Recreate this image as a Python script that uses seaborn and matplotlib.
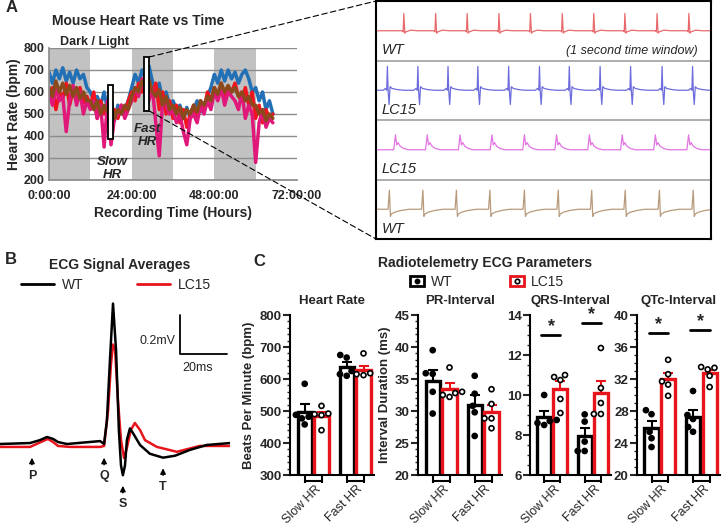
import numpy as np
import pandas as pd
import matplotlib
matplotlib.use("Agg")
import matplotlib.pyplot as plt
import matplotlib.transforms as mtransforms
from matplotlib.patches import Rectangle, ConnectionPatch
from matplotlib.lines import Line2D
from matplotlib.ticker import AutoMinorLocator, MultipleLocator
import seaborn as sns

sns.set_theme(style="white")
plt.rcParams['font.family'] = ['Liberation Sans', 'DejaVu Sans']

# ---------------- data ----------------
# A: heart rate traces, hourly, 0..65 h
hours = np.arange(66)
hr_blue = [690, 640, 700, 660, 710, 650, 690, 640, 700, 660, 680, 620,
           600, 560, 580, 540, 600, 520, 560, 470, 540, 500, 520, 560,
           620, 680, 640, 700, 660, 720, 650, 600, 640, 560, 600, 540,
           560, 520, 540, 490, 530, 480, 520, 560, 510, 540, 580, 620,
           680, 640, 700, 650, 700, 660, 690, 640, 680, 700, 660, 600,
           620, 560, 600, 520, 560, 500]
hr_red = [560, 620, 520, 600, 570, 640, 540, 610, 560, 620, 550, 580,
          540, 600, 480, 560, 500, 540, 460, 520, 480, 540, 500, 560,
          600, 560, 640, 600, 680, 620, 580, 640, 520, 600, 500, 560,
          480, 540, 460, 520, 440, 500, 540, 480, 560, 520, 600, 560,
          620, 580, 640, 560, 620, 600, 640, 580, 560, 620, 540, 600,
          480, 540, 460, 520, 480, 500]
hr_pink = [600, 540, 620, 560, 580, 420, 560, 630, 540, 600, 500, 560,
           520, 560, 480, 540, 350, 560, 360, 480, 500, 540, 480, 520,
           560, 620, 580, 660, 600, 560, 620, 460, 310, 560, 540, 500,
           520, 460, 500, 420, 360, 480, 500, 460, 540, 500, 560, 520,
           600, 560, 620, 540, 600, 580, 560, 520, 600, 480, 540, 500,
           280, 460, 520, 440, 480, 460]
hr_brown = [620, 580, 650, 600, 640, 590, 630, 580, 620, 570, 600, 560,
            560, 520, 560, 500, 540, 510, 550, 480, 520, 500, 540, 520,
            580, 620, 600, 650, 620, 660, 600, 580, 610, 540, 580, 520,
            540, 500, 530, 480, 520, 500, 540, 510, 560, 540, 580, 560,
            620, 590, 640, 600, 630, 600, 620, 580, 600, 560, 580, 540,
            540, 500, 520, 470, 500, 480]
dark_start = [0, 24, 48]
dark_len = 12
slow_win = [17.1, 18.6, 386, 632]   # t0, t1, bpm low, bpm high
fast_win = [27.6, 29.1, 514, 759]

# A inset: 1 s ECG strips (beat times in s, beat template offsets)
beats_wt1 = [0.083, 0.178, 0.272, 0.367, 0.461, 0.556, 0.650, 0.743, 0.839, 0.934]
beats_lc1 = [0.034, 0.125, 0.215, 0.304, 0.396, 0.488, 0.577, 0.669, 0.760, 0.854, 0.945]
beats_lc2 = [0.058, 0.153, 0.251, 0.346, 0.443, 0.539, 0.637, 0.735, 0.834, 0.933]
beats_wt2 = [0.040, 0.140, 0.240, 0.340, 0.443, 0.544, 0.644, 0.744, 0.846, 0.947]
tmpl_wt1 = ([-0.005, -0.002, 0.0, 0.003, 0.006, 0.02, 0.04],
            [0.0, -0.02, 0.29, -0.04, -0.02, 0.01, 0.0])
tmpl_lc1 = ([-0.012, -0.006, -0.002, 0.0, 0.002, 0.005, 0.008, 0.014, 0.03, 0.05],
            [0.0, 0.03, 0.0, 0.40, 0.0, -0.24, 0.06, 0.03, 0.01, 0.0])
tmpl_lc2 = ([-0.005, 0.0, 0.004, 0.008, 0.014, 0.025, 0.04],
            [0.0, 0.25, 0.08, 0.12, 0.06, 0.02, 0.0])
tmpl_wt2 = ([-0.004, 0.0, 0.003, 0.006, 0.015, 0.035, 0.06],
            [0.0, 0.32, -0.12, -0.08, -0.05, -0.02, 0.0])
strip_names = ['WT', 'LC15', 'LC15', 'WT']
strip_colors = ['#e86a6c', '#6c6cdc', '#e274e2', '#b89a7c']

# B: ECG signal averages (ms, mV)
wt_t = [0, 12.8, 17, 20, 22.6, 24.7, 28.5, 42.6, 44.3, 45.5, 46.8, 48.1, 49.4, 50.6,
        51.5, 52.3, 53.2, 54, 55.3, 56.6, 59.6, 63.8, 69.4, 74.5, 80.9, 88, 97.9]
wt_v = [0, 0.005, 0.02, 0.036, 0.026, 0.01, 0, 0.015, 0, 0.12, 0.43, 0.72, 0.48, 0.07,
        -0.11, -0.16, -0.11, 0.02, 0.08, 0.056, -0.005, -0.05, -0.07, -0.06, -0.03, -0.005, 0.005]
lc_t = [0, 12.8, 18.3, 20.4, 22.6, 24.7, 30, 42.6, 44.3, 46, 47.2, 48.1, 49, 50.2,
        51.5, 52.8, 54, 55.7, 57.4, 59.6, 61.7, 66.8, 75.3, 85, 97.9]
lc_v = [-0.015, -0.015, 0.015, 0.026, 0.01, -0.01, -0.015, -0.015, -0.01, 0.17, 0.405, 0.51,
        0.48, 0.225, 0.02, -0.072, -0.02, 0.072, 0.108, 0.072, 0.02, -0.015, -0.04, -0.01, -0.01]
wave_names = ['P', 'Q', 'S', 'T']
wave_t = [13.6, 44.3, 52.3, 69.4]
wave_tip = [-0.056, -0.056, -0.20, -0.11]

# C: radiotelemetry parameters, 5 mice per group
states = ['Slow HR', 'Fast HR']
genos = ['WT', 'LC15']
hr_vals = {('Slow HR', 'WT'): [585, 458, 482, 488, 477],
           ('Slow HR', 'LC15'): [516, 440, 490, 492, 487],
           ('Fast HR', 'WT'): [667, 675, 610, 615, 625],
           ('Fast HR', 'LC15'): [680, 615, 618, 612, 620]}
pr_vals = {('Slow HR', 'WT'): [39.5, 35.8, 35.9, 33.0, 29.6],
           ('Slow HR', 'LC15'): [36.8, 33.0, 32.5, 32.2, 32.8],
           ('Fast HR', 'WT'): [35.5, 32.7, 30.8, 29.8, 26.1],
           ('Fast HR', 'LC15'): [33.4, 31.1, 28.85, 28.85, 27.3]}
qrs_vals = {('Slow HR', 'WT'): [10.0, 8.7, 8.75, 8.6, 8.5],
            ('Slow HR', 'LC15'): [11.0, 10.75, 10.9, 9.8, 9.1],
            ('Fast HR', 'WT'): [8.67, 9.03, 7.67, 7.2, 7.2],
            ('Fast HR', 'LC15'): [12.35, 10.35, 9.6, 9.05, 9.05]}
qtc_vals = {('Slow HR', 'WT'): [28.1, 27.6, 25.4, 24.6, 23.5],
            ('Slow HR', 'LC15'): [34.4, 32.6, 31.7, 31.3, 29.9],
            ('Fast HR', 'WT'): [30.5, 27.5, 27.0, 25.4, 26.0],
            ('Fast HR', 'LC15'): [33.5, 33.4, 33.2, 32.4, 31.0]}
qrs_sig = [13.0, 13.58]
qtc_sig = [37.7, 38.1]

# ---------------- figure ----------------
W, H = 723, 528
fig = plt.figure(figsize=(W / 100, H / 100), dpi=100)


def px_axes(l, t, r, b):
    return fig.add_axes([l / W, 1 - b / H, (r - l) / W, (b - t) / H])


def ftext(x, y, s, **kw):
    fig.text(x / W, 1 - y / H, s, **kw)


# ---- A: heart rate vs time ----
axA = px_axes(49, 48, 297, 180)
for s in dark_start:
    axA.axvspan(s, s + dark_len, color='#c2c2c2', lw=0, zorder=0)
hr_df = pd.DataFrame({'hours': np.tile(hours, 4),
                      'bpm': hr_blue + hr_red + hr_pink + hr_brown,
                      'trace': np.repeat(['b', 'r', 'p', 'n'], len(hours))})
sns.lineplot(data=hr_df, x='hours', y='bpm', hue='trace', estimator=None,
             palette=['#2270b6', '#f0141e', '#e0187a', '#8b4a1c'], lw=2.5,
             legend=False, ax=axA, zorder=2)
axA.set_xlim(0, 72)
axA.set_ylim(200, 800)
axA.set_axisbelow('line')
axA.yaxis.grid(True, color='#8c8c8c', lw=1)
axA.set_yticks(range(200, 801, 100))
axA.set_xticks([0, 24, 48, 72])
axA.set_xticklabels(['0:00:00', '24:00:00', '48:00:00', '72:00:00'])
for sp in ['top', 'right']:
    axA.spines[sp].set_visible(False)
for sp in ['left', 'bottom']:
    axA.spines[sp].set_color('#8c8c8c')
axA.tick_params(axis='x', length=3, color='#8c8c8c', pad=4)
axA.tick_params(axis='y', length=0, pad=3)
for lab in axA.get_xticklabels() + axA.get_yticklabels():
    lab.set_fontweight('bold')
    lab.set_fontsize(9)
axA.set_xlabel('Recording Time (Hours)', fontsize=10, fontweight='bold', labelpad=3)
axA.set_ylabel('Heart Rate (bpm)', fontsize=10, fontweight='bold', labelpad=2)
for w in (slow_win, fast_win):
    axA.add_patch(Rectangle((w[0], w[2]), w[1] - w[0], w[3] - w[2], facecolor='white',
                            edgecolor='black', lw=1.3, zorder=3))
axA.text(0.045, 1.0, 'Dark / Light', transform=axA.transAxes, fontsize=9, fontweight='bold',
         va='bottom')
axA.text(18.5, 252, 'Slow\nHR', ha='center', va='center', fontsize=9.5, fontweight='bold',
         style='italic', linespacing=1.1, zorder=4)
axA.text(28.5, 402, 'Fast\nHR', ha='center', va='center', fontsize=9.5, fontweight='bold',
         style='italic', linespacing=1.1, zorder=4)
ftext(138, 21, 'Mouse Heart Rate vs Time', ha='center', va='center', fontsize=10, fontweight='bold')
ftext(6, 7, 'A', ha='left', va='center', fontsize=12, fontweight='bold')

# ---- A inset: ECG strips ----
axI = px_axes(376, 1, 711, 239)
axI.set_xlim(0, 1)
axI.set_ylim(0, 4)
for i, (beats, tmpl) in enumerate([(beats_wt1, tmpl_wt1), (beats_lc1, tmpl_lc1),
                                    (beats_lc2, tmpl_lc2), (beats_wt2, tmpl_wt2)]):
    base = 3.5 - i
    t, v = [0.0], [base]
    for b in beats:
        t += [b + d for d in tmpl[0]]
        v += [base + d for d in tmpl[1]]
    t.append(1.05)
    v.append(base)
    axI.plot(t, v, color=strip_colors[i], lw=0.9)
    axI.text(0.018, base - 0.33, strip_names[i], fontsize=10.5, style='italic', va='center')
for y in (1, 2, 3):
    axI.axhline(y, color='#a0a0a0', lw=1.2)
axI.text(0.96, 3.16, '(1 second time window)', fontsize=9, style='italic', ha='right', va='center')
axI.set_xticks([])
axI.set_yticks([])
for sp in axI.spines.values():
    sp.set_color('black')
    sp.set_linewidth(1.5)

for yA, yB in ((fast_win[3], 1), (fast_win[2], 0)):
    con = ConnectionPatch(xyA=(fast_win[1], yA), coordsA=axA.transData,
                          xyB=(0, yB), coordsB=axI.transAxes,
                          ls=(0, (5, 3)), lw=0.8, color='black')
    fig.add_artist(con)

# ---- B: ECG signal averages ----
axB = px_axes(0, 295, 230, 515)
ecg_df = pd.DataFrame({'ms': wt_t + lc_t, 'mV': wt_v + lc_v,
                       'geno': ['WT'] * len(wt_t) + ['LC15'] * len(lc_t)})
sns.lineplot(data=ecg_df, x='ms', y='mV', hue='geno', hue_order=['LC15', 'WT'],
             palette={'WT': 'black', 'LC15': '#e8141c'}, sort=False, estimator=None,
             lw=1.8, legend=False, ax=axB)
axB.set_xlim(0, 97.9)
axB.set_ylim(-0.364, 0.764)
axB.axis('off')
for name, t, tip in zip(wave_names, wave_t, wave_tip):
    axB.annotate('', xy=(t, tip), xytext=(t, tip - 0.065),
                 arrowprops=dict(arrowstyle='-|>', color='black', lw=1, mutation_scale=8))
    axB.text(t, tip - 0.11, name, ha='center', va='center', fontsize=9, fontweight='bold')
axB.plot([76.6, 76.6, 96.6], [0.66, 0.46, 0.46], color='black', lw=1.3)
axB.text(74.5, 0.53, '0.2mV', ha='right', va='center', fontsize=9)
axB.text(84, 0.39, '20ms', ha='center', va='center', fontsize=9)
ftext(5, 260, 'B', ha='left', va='center', fontsize=12, fontweight='bold')
ftext(120, 265, 'ECG Signal Averages', ha='center', va='center', fontsize=10, fontweight='bold')
fig.legend(handles=[Line2D([], [], color='black', lw=2), Line2D([], [], color='#e8141c', lw=2)],
           labels=['WT', 'LC15'], loc='center', bbox_to_anchor=(116 / W, 1 - 285 / H), ncol=2,
           frameon=False, handlelength=2.4, columnspacing=3.8, handletextpad=0.6, fontsize=10)

# ---- C: bar panels ----
ftext(253, 262, 'C', ha='left', va='center', fontsize=12, fontweight='bold')
ftext(485, 263, 'Radiotelemetry ECG Parameters', ha='center', va='center', fontsize=10,
      fontweight='bold')

panels = [(hr_vals, 'Heart Rate', (290, 374), (300, 800), 100, 5, 'Beats Per Minute (bpm)', None),
          (pr_vals, 'PR-Interval', (418, 502), (20, 45), 5, 5, 'Interval Duration (ms)', None),
          (qrs_vals, 'QRS-Interval', (530, 611), (6, 14), 2, 4, None, qrs_sig),
          (qtc_vals, 'QTc-Interval', (637, 720), (20, 40), 4, 4, None, qtc_sig)]
pal_edge = {'WT': 'black', 'LC15': '#e8141c'}
for vals, title, (l, r), ylim, major, nminor, ylabel, sig in panels:
    ax = px_axes(l, 315, r, 475)
    rows = [(s, g, v) for (s, g), vv in vals.items() for v in vv]
    df = pd.DataFrame(rows, columns=['state', 'geno', 'value'])
    sns.barplot(data=df, x='state', y='value', hue='geno', order=states, hue_order=genos,
                errorbar=None, fill=False, palette=pal_edge, linewidth=2.4, gap=0.15,
                legend=False, ax=ax)
    sem = df.groupby(['state', 'geno'])['value'].sem()
    centers = []
    for p in ax.patches:
        cx = p.get_x() + p.get_width() / 2
        ci = int(round(cx))
        g = 'WT' if cx < ci else 'LC15'
        centers.append(cx)
        ax.errorbar(cx, p.get_height(), yerr=[[0], [sem[(states[ci], g)]]], color=pal_edge[g],
                    capsize=3.5, lw=1.5, capthick=1.5, zorder=3)
    sns.swarmplot(data=df, x='state', y='value', hue='geno', order=states, hue_order=genos,
                  dodge=True, palette={'WT': 'black', 'LC15': 'white'}, edgecolor='black',
                  linewidth=1.2, size=3.6, legend=False, ax=ax, zorder=4)
    ax.set_xlim(-0.55, 1.45)
    ax.set_ylim(*ylim)
    ax.yaxis.set_major_locator(MultipleLocator(major))
    ax.yaxis.set_minor_locator(AutoMinorLocator(nminor))
    ax.set_xticks(sorted(centers))
    ax.set_xticklabels([])
    ax.tick_params(axis='x', length=6, width=1.5, color='black', bottom=True)
    ax.tick_params(axis='y', which='major', length=5, width=1.5, left=True, pad=1)
    ax.tick_params(axis='y', which='minor', length=2.5, width=1, left=True)
    for lab in ax.get_yticklabels():
        lab.set_fontweight('bold')
        lab.set_fontsize(9.5)
    sns.despine(ax=ax)
    for sp in ['left', 'bottom']:
        ax.spines[sp].set_linewidth(1.5)
        ax.spines[sp].set_color('black')
    trans = mtransforms.blended_transform_factory(ax.transData, ax.transAxes)
    for gi, sname in enumerate(states):
        ax.plot([gi - 0.2, gi + 0.2], [-0.0375, -0.0375], color='black', lw=1.5,
                transform=trans, clip_on=False, solid_capstyle='butt')
        ax.text(gi + 0.14, -0.075, sname, transform=trans, rotation=45, ha='right', va='center',
                rotation_mode='anchor', fontsize=9)
    ax.set_xlabel('')
    ax.set_ylabel(ylabel if ylabel else '', fontsize=9.5, fontweight='bold', labelpad=3)
    ax.set_title(title, fontsize=9.5, fontweight='bold', pad=8)
    if sig:
        for gi, sy in enumerate(sig):
            ax.plot([gi - 0.27, gi + 0.2], [sy, sy], color='black', lw=2)
            ax.text(gi - 0.03, sy, '*', ha='center', va='bottom', fontsize=13, fontweight='bold')

h_wt = (Rectangle((0, 0), 1, 1, facecolor='white', edgecolor='black', lw=2),
        Line2D([], [], ls='', marker='o', ms=3.2, color='black'))
h_lc = (Rectangle((0, 0), 1, 1, facecolor='white', edgecolor='#e8141c', lw=2),
        Line2D([], [], ls='', marker='o', ms=3.2, mfc='white', mec='black', mew=1.2))
fig.legend(handles=[h_wt, h_lc], labels=['WT', 'LC15'], loc='center',
           bbox_to_anchor=(487 / W, 1 - 282 / H), ncol=2, frameon=False, handlelength=1.0,
           handleheight=0.65, columnspacing=4.1, handletextpad=0.5, fontsize=10)

fig.savefig('out.png', dpi=100)
